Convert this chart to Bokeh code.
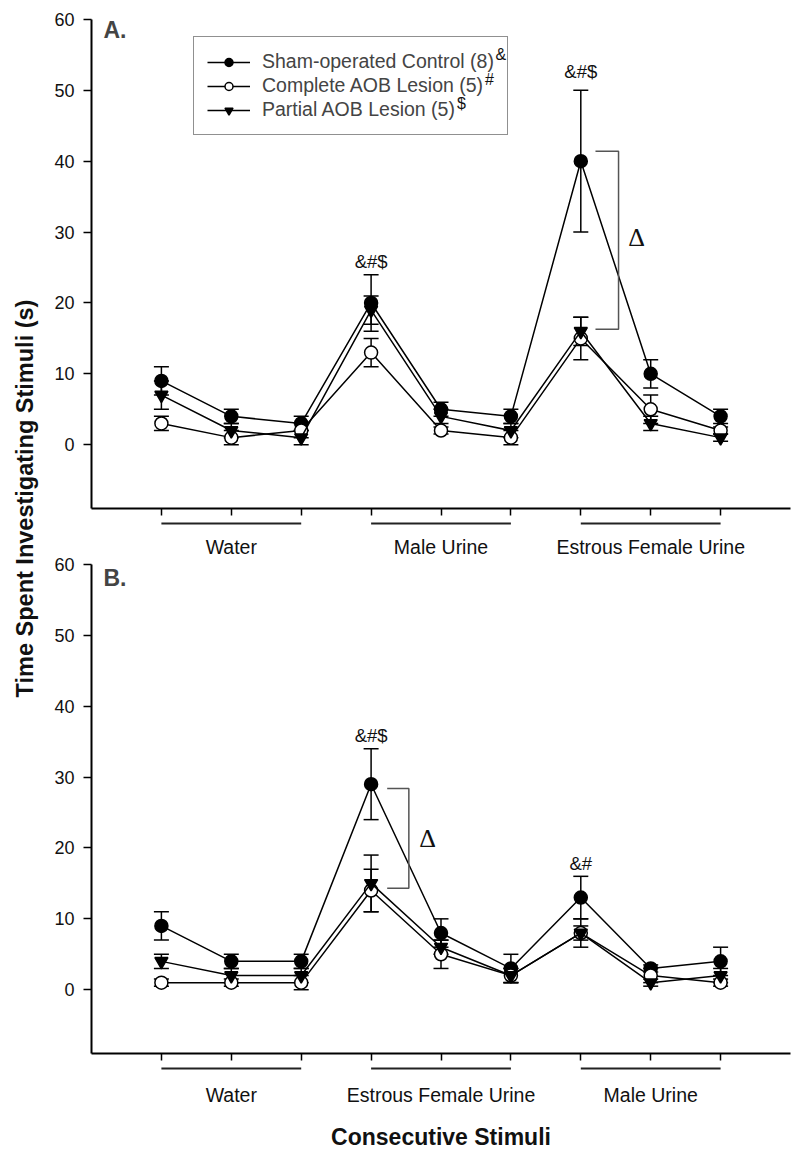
import numpy as np
from bokeh.plotting import figure
from bokeh.models import (Range1d, FixedTicker, Whisker, TeeHead, ColumnDataSource,
                          Legend, LegendItem, Label)
from bokeh.layouts import row, column
from bokeh.embed import file_html
from bokeh.resources import INLINE
from bokeh.core.properties import value

FONT = "Liberation Sans"

# ---------------- data ----------------
stimuli = [1, 2, 3, 4, 5, 6, 7, 8, 9]
y_ticks = [0, 10, 20, 30, 40, 50, 60]

groups_A = ["Water", "Male Urine", "Estrous Female Urine"]
groups_B = ["Water", "Estrous Female Urine", "Male Urine"]
group_start = [1, 4, 7]
group_end = [3, 6, 9]
group_mid = [2, 5, 8]

series_names = ["Sham-operated Control (8)", "Complete AOB Lesion (5)", "Partial AOB Lesion (5)"]
series_sup = ["&", "#", "$"]

A_sham = [9, 4, 3, 20, 5, 4, 40, 10, 4]
A_sham_se = [2, 1, 1, 4, 1, 1, 10, 2, 1]
A_comp = [3, 1, 2, 13, 2, 1, 15, 5, 2]
A_comp_se = [1, 1, 1, 2, 0.5, 1, 3, 2, 0.5]
A_part = [7, 2, 1, 19, 4, 2, 16, 3, 1]
A_part_se = [2, 1, 1, 2, 1, 1, 2, 1, 0.5]

B_sham = [9, 4, 4, 29, 8, 3, 13, 3, 4]
B_sham_se = [2, 1, 1, 5, 2, 2, 3, 0.5, 2]
B_comp = [1, 1, 1, 14, 5, 2, 8, 2, 1]
B_comp_se = [0.5, 0.5, 1, 3, 2, 1, 1, 1, 0.5]
B_part = [4, 2, 2, 15, 6, 2, 8, 1, 2]
B_part_se = [1, 1, 1, 4, 1, 1, 2, 0.5, 1]

A_sig_x = [4, 7]
A_sig_y = [25.8, 52.6]
A_sig_text = ["&#$", "&#$"]
B_sig_x = [4, 7]
B_sig_y = [35.9, 17.8]
B_sig_text = ["&#$", "&#"]

# bracket (x_left, x_right, y_top, y_bottom) and delta position
A_bracket = (7.21, 7.54, 41.4, 16.3)
A_delta = (7.8, 29.2)
B_bracket = (4.23, 4.54, 28.4, 14.3)
B_delta = (4.81, 21.3)

# legend superscript anchors (data coordinates of panel A)
sup_x = [5.78, 5.63, 5.23]
sup_y = [55.1, 51.6, 48.1]

Y_MIN, Y_MAX = -9, 60
X_MIN, X_MAX = 0, 10


def panel(sham, sham_se, comp, comp_se, part, part_se, sig_x, sig_y, sig_text,
          bracket, delta, letter, letter_y, top_border, with_legend):
    p = figure(width=748, height=top_border + 489 + 10,
               x_range=Range1d(X_MIN, X_MAX), y_range=Range1d(Y_MIN, Y_MAX),
               min_border_left=47, min_border_right=2, min_border_top=top_border,
               min_border_bottom=10, toolbar_location=None, output_backend="svg")
    p.xgrid.visible = False
    p.ygrid.visible = False
    p.outline_line_color = None
    p.background_fill_color = "white"

    p.xaxis.ticker = FixedTicker(ticks=stimuli)
    p.xaxis.major_label_text_font_size = "1px"
    p.xaxis.major_label_text_color = None
    p.xaxis.major_label_standoff = 0
    p.xaxis.major_tick_out = 7
    p.xaxis.major_tick_in = 0
    p.xaxis.minor_tick_line_color = None
    p.xaxis.axis_line_width = 2
    p.xaxis.major_tick_line_width = 1.5

    p.yaxis.ticker = FixedTicker(ticks=y_ticks)
    p.yaxis.major_label_text_font = FONT
    p.yaxis.major_label_text_font_size = "18px"
    p.yaxis.major_label_text_color = "#111111"
    p.yaxis.major_label_standoff = 9
    p.yaxis.major_tick_out = 8
    p.yaxis.major_tick_in = 0
    p.yaxis.minor_tick_line_color = None
    p.yaxis.axis_line_width = 2
    p.yaxis.major_tick_line_width = 1.5

    styles = [
        (sham, sham_se, "circle", "black"),
        (comp, comp_se, "circle", "white"),
        (part, part_se, "inverted_triangle", "black"),
    ]
    items = []
    for i, (vals, se, mk, fc) in enumerate(styles):
        src = ColumnDataSource(dict(
            x=stimuli, y=vals,
            upper=[v + s for v, s in zip(vals, se)],
            lower=[v - s for v, s in zip(vals, se)]))
        w = Whisker(source=src, base="x", upper="upper", lower="lower",
                    line_width=1.5, line_color="black", level="underlay",
                    upper_head=TeeHead(size=15, line_width=1.5, line_color="black"),
                    lower_head=TeeHead(size=15, line_width=1.5, line_color="black"))
        p.add_layout(w)
        lr = p.line("x", "y", source=src, line_color="black", line_width=1.5)
        mr = p.scatter("x", "y", source=src, marker=mk, size=13, fill_color=fc,
                       line_color="black", line_width=1.5)
        items.append(LegendItem(label=series_names[i], renderers=[lr, mr]))

    # significance markers
    p.text(x=sig_x, y=sig_y, text=sig_text, text_font=value(FONT),
           text_font_size=value("18.5px"), text_align="center",
           text_baseline="middle", text_color="#111111")

    # bracket + delta
    xl, xr, yt, yb = bracket
    p.line(x=[xl, xr, xr, xl], y=[yt, yt, yb, yb], line_color="#555555", line_width=1.5)
    p.text(x=[delta[0]], y=[delta[1]], text=["Δ"], text_font=value("Liberation Serif"),
           text_font_size=value("26px"), text_align="center", text_baseline="middle",
           text_color="#111111")

    # panel letter
    p.add_layout(Label(x=0.17, y=letter_y, text=letter, text_font=FONT,
                       text_font_size="23px", text_font_style="bold",
                       text_baseline="middle", text_align="left"))

    if with_legend:
        leg = Legend(items=items, location=(102, 373), padding=13, spacing=1,
                     glyph_width=43, glyph_height=20, label_height=20,
                     label_standoff=12, label_text_font=FONT,
                     label_text_font_size="19.5px", border_line_color="#222222",
                     border_line_width=1.5, background_fill_alpha=0.0, margin=0)
        p.add_layout(leg)
        p.text(x=sup_x, y=sup_y, text=series_sup, text_font=value(FONT),
               text_font_size=value("16px"), text_align="left",
               text_baseline="middle", text_color="#111111")
    return p


def groups_fig(height, names, line_y, label_y, xlabel_y=None):
    g = figure(width=748, height=height, x_range=Range1d(X_MIN, X_MAX),
               y_range=Range1d(0, height), min_border_left=47, min_border_right=2,
               min_border_top=0, min_border_bottom=0, x_axis_type=None,
               y_axis_type=None, toolbar_location=None, output_backend="svg")
    g.xgrid.visible = False
    g.ygrid.visible = False
    g.outline_line_color = None
    g.segment(x0=group_start, y0=[line_y] * 3, x1=group_end, y1=[line_y] * 3,
              line_color="#222222", line_width=2)
    g.text(x=group_mid, y=[label_y] * 3, text=names, text_font=value(FONT),
           text_font_size=value("19.5px"), text_align="center",
           text_baseline="middle", text_color="#111111")
    if xlabel_y is not None:
        g.text(x=[5], y=[xlabel_y], text=["Consecutive Stimuli"], text_font=value(FONT),
               text_font_size=value("23px"), text_font_style="bold",
               text_align="center", text_baseline="middle", text_color="#111111")
    return g


pA = panel(A_sham, A_sham_se, A_comp, A_comp_se, A_part, A_part_se,
           A_sig_x, A_sig_y, A_sig_text, A_bracket, A_delta, "A.", 58.5, 19, True)
gA = groups_fig(38, groups_A, 33, 10)
pB = panel(B_sham, B_sham_se, B_comp, B_comp_se, B_part, B_part_se,
           B_sig_x, B_sig_y, B_sig_text, B_bracket, B_delta, "B.", 58.1, 8, False)
gB = groups_fig(86, groups_B, 81, 55, 13)

total_h = pA.height + gA.height + pB.height + gB.height
lab = figure(width=44, height=total_h, x_range=Range1d(0, 44), y_range=Range1d(0, total_h),
             min_border=0, x_axis_type=None, y_axis_type=None,
             toolbar_location=None, output_backend="svg")
lab.xgrid.visible = False
lab.ygrid.visible = False
lab.outline_line_color = None
lab.text(x=[24], y=[total_h - 498], text=["Time Spent Investigating Stimuli (s)"],
         angle=np.pi / 2, text_font=value(FONT), text_font_size=value("23.5px"),
         text_font_style="bold", text_align="center", text_baseline="middle",
         text_color="#111111")

layout = row(lab, column(pA, gA, pB, gB))

open("out.html", "w").write(file_html(layout, INLINE))
